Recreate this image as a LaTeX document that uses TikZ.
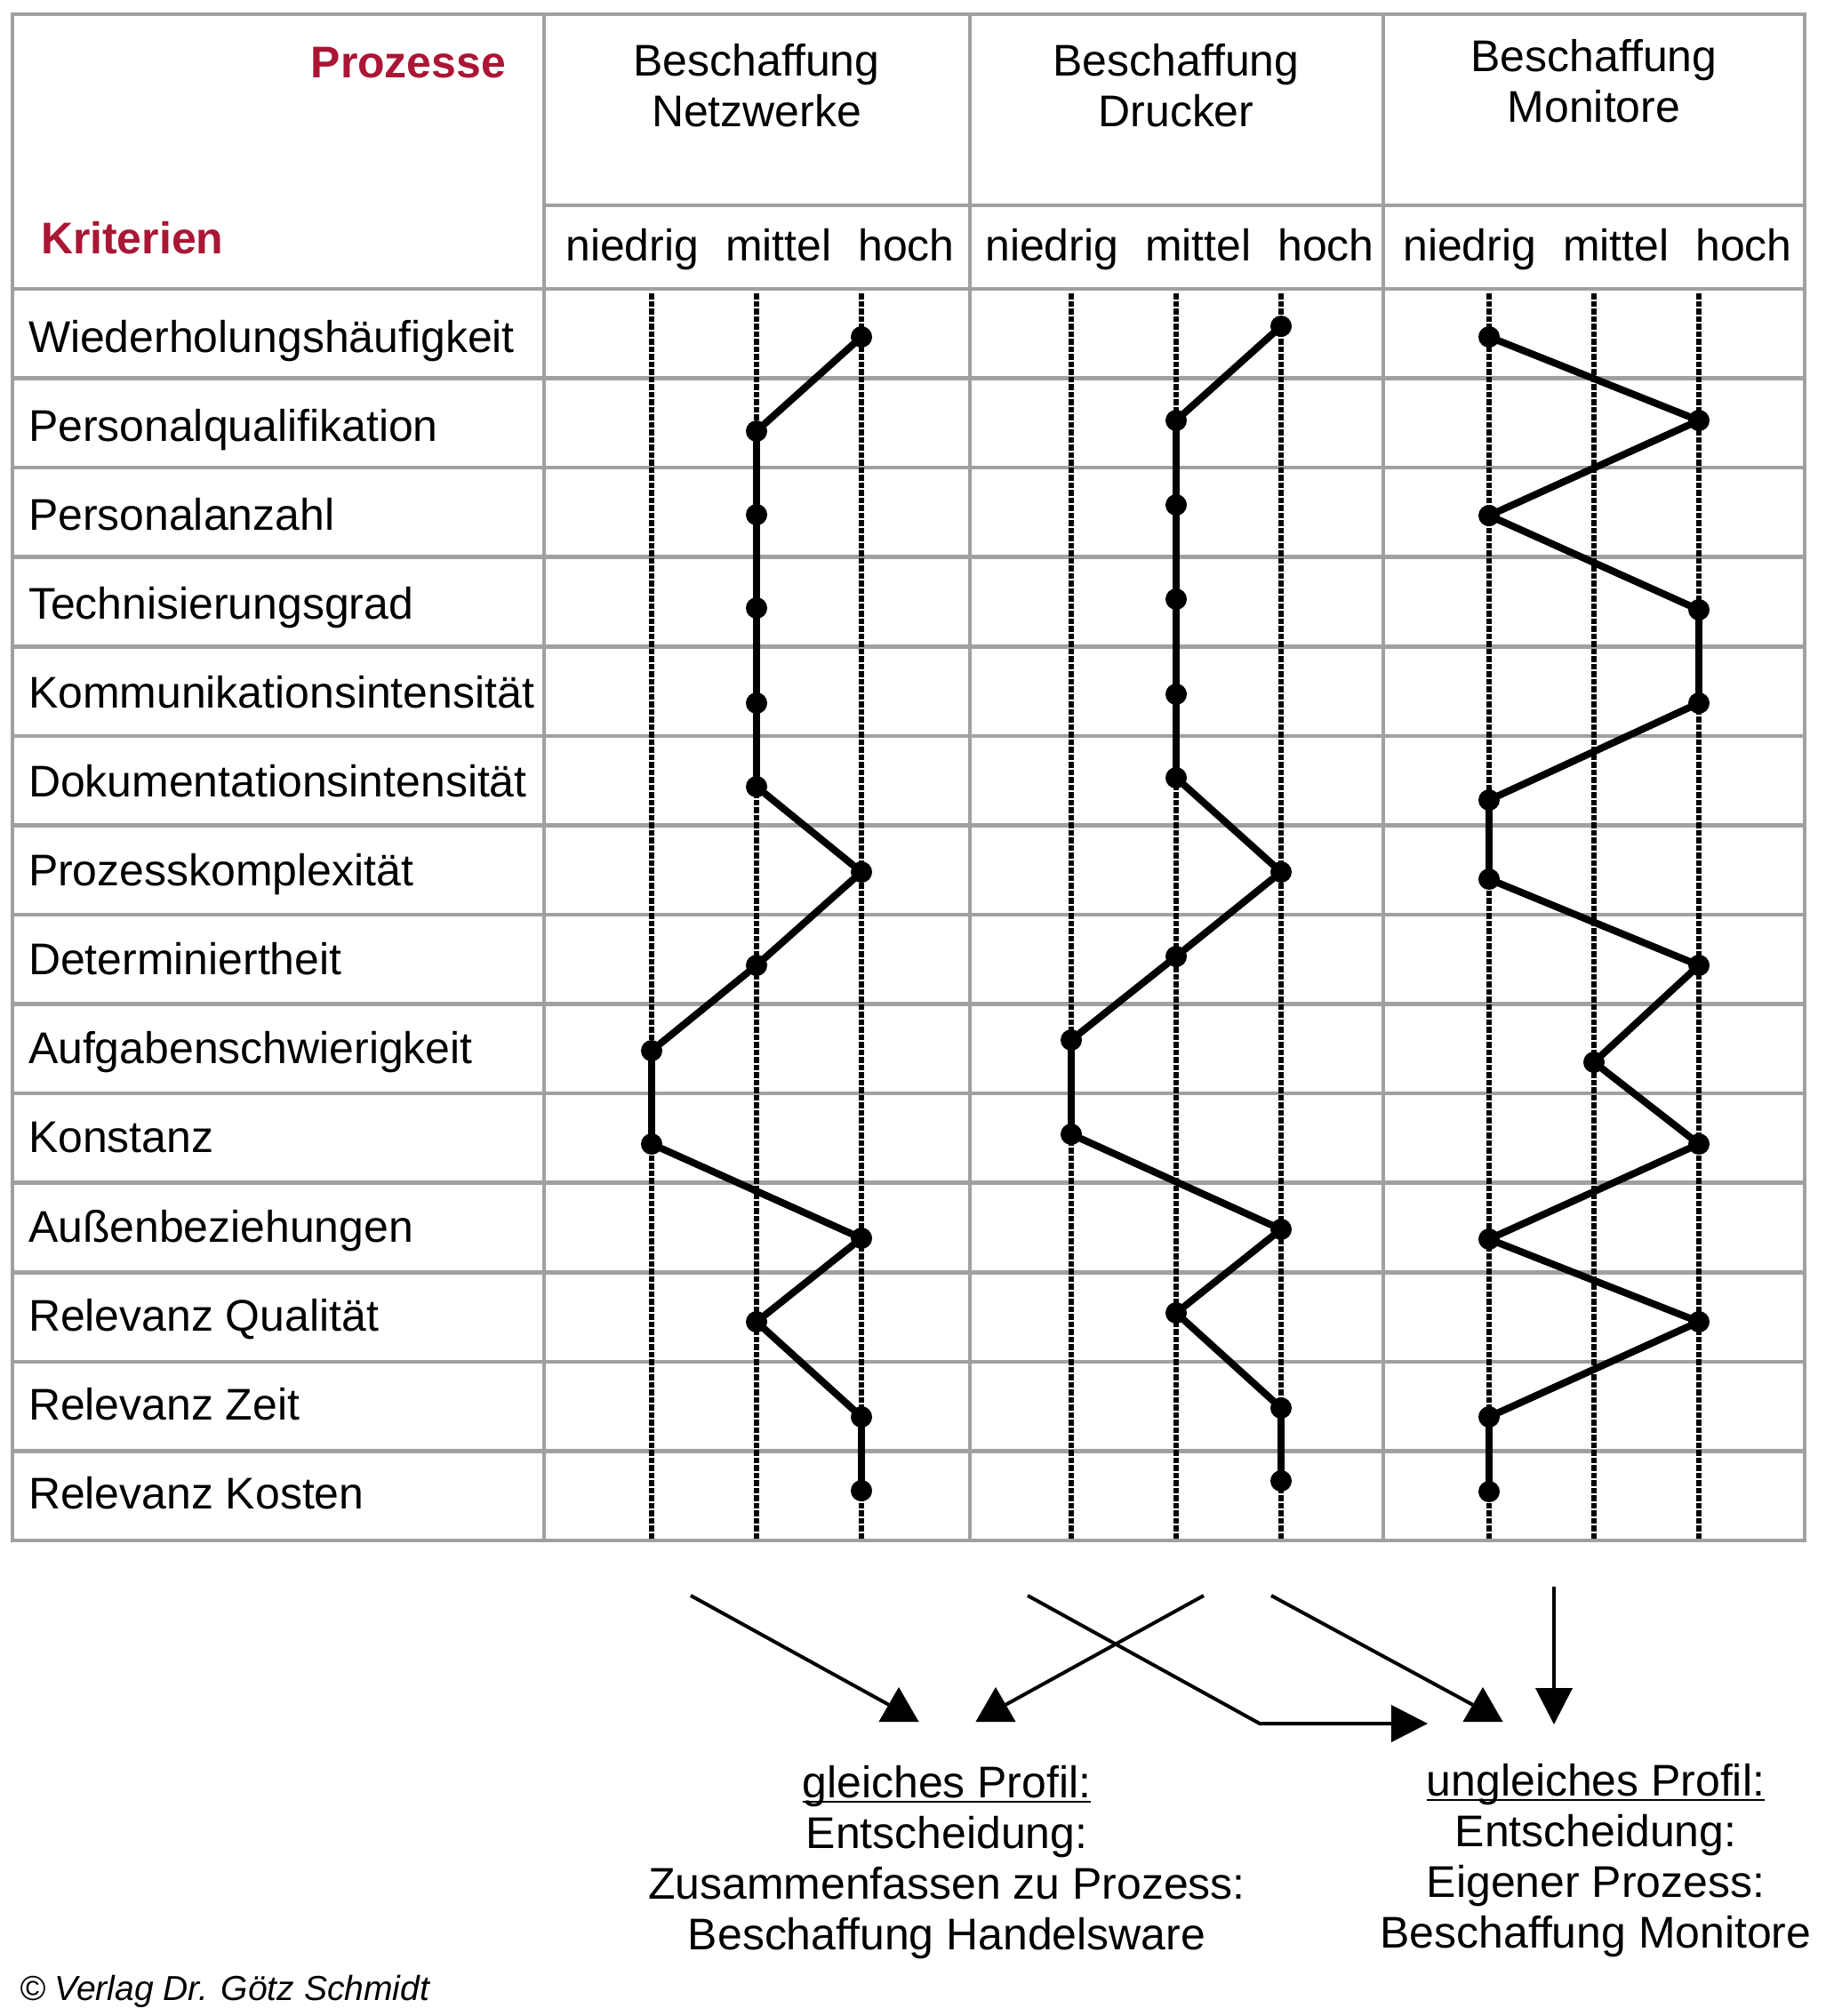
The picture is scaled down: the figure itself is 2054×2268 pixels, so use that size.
\documentclass[tikz,border=0pt]{standalone}
\usepackage{fontspec}
\setmainfont{Liberation Sans}
\usepackage{tikz}
\usetikzlibrary{shapes.geometric, arrows.meta, positioning}

\definecolor{gridgray}{RGB}{160,160,160}
\definecolor{critred}{RGB}{170,22,52}

\tikzstyle{gridline}  = [draw=gridgray, line width=0.045cm]
\tikzstyle{scaleline} = [draw=black, line width=0.055cm, dash pattern=on 0.065cm off 0.02cm]
\tikzstyle{arrline}   = [draw=black, line width=0.04cm]

\begin{document}
\begin{tikzpicture}[x=0.01cm, y=-0.01cm,
    every node/.style={inner sep=0pt, outer sep=0pt},
    txt/.style={font=\fontsize{14.2}{16.2}\selectfont},
    crit/.style={txt, anchor=base west},
    head/.style={txt, align=center, anchor=base},
    redhead/.style={font=\fontsize{14.2}{16.2}\selectfont\bfseries, text=critred},
    dot/.style={circle, fill=black, minimum size=0.24cm},
    profil/.style={line width=0.08cm, line cap=round, line join=round},
    tipup/.style={regular polygon, regular polygon sides=3, fill=black, minimum size=0.52cm},
    tip/.style={-{Triangle[length=0.41cm, width=0.41cm]}}]

  \useasboundingbox (0,0) rectangle (2054,2268);

  % Tabellenraster
  \draw[gridline] (14,16) rectangle (2030,1733);
  \foreach \x in {612,1091,1556} \draw[gridline] (\x,16) -- (\x,1733);
  \draw[gridline] (612,231) -- (2030,231);
  \foreach \k in {0,...,13} \draw[gridline] (14,{325+100.57*\k}) -- (2030,{325+100.57*\k});

  \node[redhead, anchor=base east] (proz) at (569,87) {Prozesse};
  \node[redhead, anchor=base west] (krit) at (46,285) {Kriterien};

  % Kriterien
  \foreach \lab [count=\i] in {Wiederholungshäufigkeit, Personalqualifikation, Personalanzahl,
      Technisierungsgrad, Kommunikationsintensität, Dokumentationsintensität,
      Prozesskomplexität, Determiniertheit, Aufgabenschwierigkeit, Konstanz,
      Außenbeziehungen, Relevanz Qualität, Relevanz Zeit, Relevanz Kosten}
    \node[crit] (k\i) at (32,{396+100.1*(\i-1)}) {\lab};

  % Prozesse mit Skala (base = letzte Zeile)
  \foreach \cx/\titel/\nm/\dy in {851/Netzwerke/nw/0, 1323/Drucker/dr/0, 1793/Monitore/mo/-5} {
    \node[head] (t\nm) at ({\cx},{142+\dy}) {Beschaffung\\\titel};
    \node[txt, anchor=base] (s\nm) at ({\cx+4},293) {niedrig\hspace{0.6em}mittel\hspace{0.6em}hoch};
    \foreach \v in {-1,0,1} \draw[scaleline] ({\cx+118*\v},330) -- ({\cx+118*\v},1731);
  }

  % Profil Netzwerke
  \foreach \v/\y [count=\i] in {2/379, 1/485, 1/579, 1/684, 1/791, 1/885, 2/981,
      1/1086, 0/1182, 0/1287, 2/1393, 1/1487, 2/1594, 2/1677}
    \node[dot] (nw\i) at ({851+118*(\v-1)},\y) {};
  \foreach \i [remember=\i as \j (initially 1)] in {2,...,14}
    \draw[profil] (nw\j) -- (nw\i);

  % Profil Drucker
  \foreach \v/\y [count=\i] in {2/367, 1/473, 1/568, 1/674, 1/781, 1/875, 2/981,
      1/1076, 0/1170, 0/1276, 2/1383, 1/1477, 2/1584, 2/1666}
    \node[dot] (dr\i) at ({1323+118*(\v-1)},\y) {};
  \foreach \i [remember=\i as \j (initially 1)] in {2,...,14}
    \draw[profil] (dr\j) -- (dr\i);

  % Profil Monitore
  \foreach \v/\y [count=\i] in {0/379, 2/473, 0/580, 2/686, 2/791, 0/900, 0/989,
      2/1086, 1/1195, 2/1287, 0/1394, 2/1487, 0/1594, 0/1678}
    \node[dot] (mo\i) at ({1793+118*(\v-1)},\y) {};
  \foreach \i [remember=\i as \j (initially 1)] in {2,...,14}
    \draw[profil] (mo\j) -- (mo\i);

  % Zuordnung
  \coordinate (a1) at (777,1795);
  \coordinate (a2) at (1354,1795);
  \coordinate (a3) at (1156,1795);
  \coordinate (a4) at (1430,1795);
  \coordinate (a5) at (1748,1785);
  \coordinate (k3) at (1417,1939);
  \coordinate (e3) at (1606,1939);
  \coordinate (e5) at (1748,1940);
  \node[tipup] (p1) at (1011,1924) {};
  \node[tipup] (p2) at (1120,1924) {};
  \node[tipup] (p4) at (1668,1924) {};
  \draw[arrline] (a1) -- (p1);
  \draw[arrline] (a2) -- (p2);
  \draw[arrline] (a4) -- (p4);
  \draw[arrline, tip] (a3) -- (k3) -- (e3);
  \draw[arrline, tip] (a5) -- (e5);

  \node[head] (gleich) at (1065,2193)
    {\underline{\smash{gleiches Profil:}}\\Entscheidung:\\Zusammenfassen zu Prozess:\\Beschaffung Handelsware};
  \node[head] (ungleich) at (1795,2191)
    {\underline{\smash{ungleiches Profil:}}\\Entscheidung:\\Eigener Prozess:\\Beschaffung Monitore};

  \node[anchor=base west, font=\fontsize{11.1}{13}\selectfont\itshape] (copy) at (22,2250)
    {© Verlag Dr. Götz Schmidt};
\end{tikzpicture}
\end{document}
